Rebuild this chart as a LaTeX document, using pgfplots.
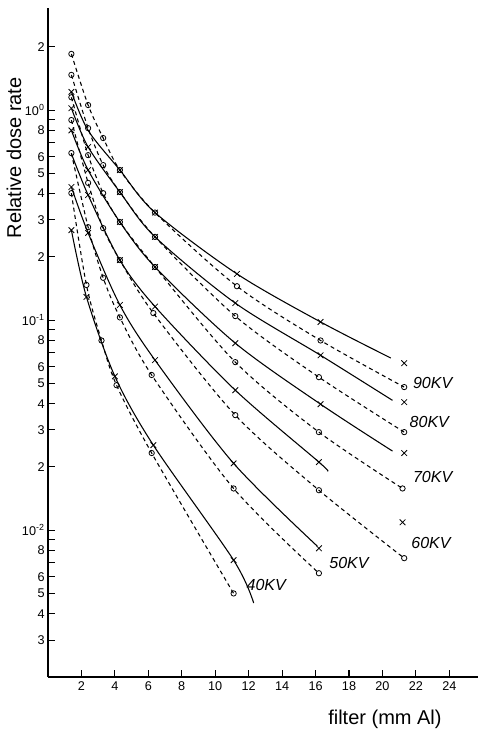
\documentclass[border=0pt]{standalone}
\usepackage{fontspec}
\setmainfont{Liberation Sans}
\usepackage{pgfplots}
\pgfplotsset{compat=1.18}
\begin{document}
\begin{tikzpicture}
\begin{axis}[
  at={(0,0)}, anchor=south west,
  scale only axis, width=322.5pt, height=502pt,
  xmin=0, xmax=25.7, ymode=log, ymin=0.002, ymax=3.06,
  axis lines=left, axis line style={-, line width=0.9pt},
  xtick={2,4,...,24},
  ytick={0.003,0.004,0.005,0.006,0.007,0.008,0.009,0.01,0.02,0.03,0.04,0.05,0.06,0.07,0.08,0.09,0.1,0.2,0.3,0.4,0.5,0.6,0.7,0.8,0.9,1,2},
  yticklabels={3,4,5,6,,8,,10\textsuperscript{-2},2,3,4,5,6,,8,,10\textsuperscript{-1},2,3,4,5,6,,8,,10\textsuperscript{0},2},
  yminorticks=false, xminorticks=false,
  tick align=inside, major tick length=5pt,
  tick style={line width=0.8pt, black},
  /pgf/number format/assume math mode=true,
  ticklabel style={font=\fontsize{9.5}{11}\selectfont},
  yticklabel style={xshift=1pt},
  xlabel={filter (mm Al)},
  xlabel style={at={(axis description cs:0.784,0)}, anchor=center, yshift=-32pt, font=\fontsize{15}{18}\selectfont},
  ylabel={Relative dose rate},
  ylabel style={at={(axis description cs:-0.079,0.776)}, anchor=center, font=\fontsize{15}{18}\selectfont},
  clip=false,
]
% ---- solid lines (x markers)
\addplot[black, line width=0.8pt, smooth, tension=0.5] coordinates {(1.4,1.22)(2.4,0.80)(4.3,0.518)(6.4,0.325)(11.3,0.166)(16.3,0.098)(20.5,0.066)};
\addplot[black, line width=0.8pt, smooth, tension=0.5] coordinates {(1.4,1.02)(2.4,0.667)(4.3,0.407)(6.4,0.249)(11.2,0.1205)(16.3,0.068)(20.6,0.0415)};
\addplot[black, line width=0.8pt, smooth, tension=0.5] coordinates {(1.4,0.80)(2.4,0.518)(4.3,0.293)(6.4,0.179)(11.2,0.0777)(16.3,0.0398)(20.6,0.0238)};
\addplot[black, line width=0.8pt, smooth, tension=0.5] coordinates {(1.4,0.62)(2.4,0.394)(4.3,0.193)(6.4,0.116)(11.2,0.0464)(16.2,0.0211)(16.7,0.0192)};
\addplot[black, line width=0.8pt, smooth, tension=0.5] coordinates {(1.4,0.43)(2.4,0.26)(4.3,0.118)(6.4,0.0645)(11.1,0.0208)(16.1,0.0084)};
\addplot[black, line width=0.8pt, smooth, tension=0.5] coordinates {(1.4,0.268)(2.3,0.129)(4.0,0.054)(6.3,0.0254)(11.1,0.0072)(12.3,0.0045)};
% ---- x markers
\addplot[only marks, mark=x, mark size=3pt, line width=0.6pt, black] coordinates {
(1.4,1.22)(4.3,0.518)(6.4,0.325)(11.3,0.166)(16.3,0.098)(21.3,0.0624)
(1.4,1.02)(2.4,0.667)(4.3,0.407)(6.4,0.249)(11.2,0.1205)(16.3,0.068)(21.3,0.0407)
(1.4,0.80)(2.4,0.518)(4.3,0.293)(6.4,0.179)(11.2,0.0777)(16.3,0.0398)(21.3,0.0233)
(2.4,0.394)(4.3,0.193)(6.4,0.116)(11.2,0.0464)(16.2,0.0211)(21.2,0.0109)
(1.4,0.43)(2.4,0.26)(4.3,0.118)(6.4,0.0645)(11.1,0.0208)(16.2,0.0082)
(1.4,0.268)(2.3,0.129)(4.0,0.054)(6.3,0.0254)(11.1,0.0072)};
% ---- dashed lines (o markers)
\addplot[black, line width=0.8pt, dash pattern=on 3pt off 2.5pt, smooth, tension=0.5] coordinates {(1.4,1.85)(2.4,1.056)(3.3,0.736)(4.3,0.518)(6.4,0.325)(11.3,0.145)(16.3,0.080)(21.3,0.048)};
\addplot[black, line width=0.8pt, dash pattern=on 3pt off 2.5pt, smooth, tension=0.5] coordinates {(1.4,1.47)(2.4,0.82)(3.3,0.547)(4.3,0.407)(6.4,0.249)(11.2,0.1045)(16.2,0.0535)(21.3,0.0293)};
\addplot[black, line width=0.8pt, dash pattern=on 3pt off 2.5pt, smooth, tension=0.5] coordinates {(1.4,1.15)(2.4,0.61)(3.3,0.402)(4.3,0.293)(6.4,0.179)(11.2,0.0631)(16.2,0.0293)(21.2,0.0158)};
\addplot[black, line width=0.8pt, dash pattern=on 3pt off 2.5pt, smooth, tension=0.5] coordinates {(1.4,0.896)(2.4,0.45)(3.3,0.274)(4.3,0.193)(6.3,0.108)(11.2,0.0353)(16.2,0.0155)(21.3,0.00736)};
\addplot[black, line width=0.8pt, dash pattern=on 3pt off 2.5pt, smooth, tension=0.5] coordinates {(1.4,0.624)(2.4,0.277)(3.3,0.159)(4.3,0.103)(6.2,0.0548)(11.1,0.0158)(16.2,0.00624)};
\addplot[black, line width=0.8pt, dash pattern=on 3pt off 2.5pt, smooth, tension=0.5] coordinates {(1.4,0.402)(2.3,0.147)(3.2,0.080)(4.1,0.049)(6.2,0.0233)(11.1,0.0050)};
% ---- o markers
\addplot[only marks, mark=o, mark size=2pt, line width=0.6pt, black] coordinates {
(1.4,1.85)(2.4,1.056)(3.3,0.736)(4.3,0.518)(6.4,0.325)(11.3,0.145)(16.3,0.080)(21.3,0.048)
(1.4,1.47)(2.4,0.82)(3.3,0.547)(4.3,0.407)(6.4,0.249)(11.2,0.1045)(16.2,0.0535)(21.3,0.0293)
(1.4,1.15)(2.4,0.61)(3.3,0.402)(4.3,0.293)(6.4,0.179)(11.2,0.0631)(16.2,0.0293)(21.2,0.0158)
(1.4,0.896)(2.4,0.45)(3.3,0.274)(4.3,0.193)(6.3,0.108)(11.2,0.0353)(16.2,0.0155)(21.3,0.00736)
(1.4,0.624)(2.4,0.277)(3.3,0.159)(4.3,0.103)(6.2,0.0548)(11.1,0.0158)(16.2,0.00624)
(1.4,0.402)(2.3,0.147)(3.2,0.080)(4.1,0.049)(6.2,0.0233)(11.1,0.0050)};
% ---- labels
\node[font=\itshape\fontsize{12}{14}\selectfont] at (axis cs:23.0,0.050) {90KV};
\node[font=\itshape\fontsize{12}{14}\selectfont] at (axis cs:22.8,0.0327) {80KV};
\node[font=\itshape\fontsize{12}{14}\selectfont] at (axis cs:23.0,0.0179) {70KV};
\node[font=\itshape\fontsize{12}{14}\selectfont] at (axis cs:22.9,0.00867) {60KV};
\node[font=\itshape\fontsize{12}{14}\selectfont] at (axis cs:18.0,0.00697) {50KV};
\node[font=\itshape\fontsize{12}{14}\selectfont] at (axis cs:13.05,0.00547) {40KV};
\end{axis}
\pgfresetboundingbox
\path (-36pt,-42pt) rectangle (323.25pt,508pt);
\end{tikzpicture}
\end{document}
